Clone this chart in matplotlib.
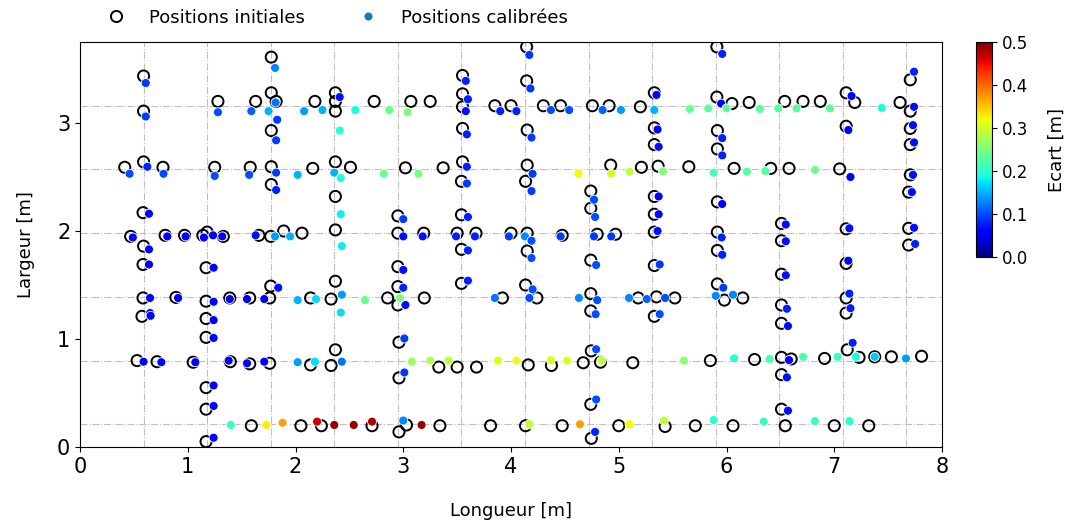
import numpy as np
import matplotlib
matplotlib.use("Agg")
import matplotlib.pyplot as plt
from matplotlib.lines import Line2D

# Grid reference lines (m)
grid_x = [0.59, 1.18, 1.77, 2.36, 2.95, 3.54, 4.13, 4.72, 5.31, 5.90, 6.49, 7.08, 7.67]
grid_y = [0.21, 0.80, 1.39, 1.98, 2.57, 3.16]

# Initial positions
init_pts = [
    (0.59, 3.435), (0.59, 3.11), (0.59, 2.64), (0.415, 2.59), (0.77, 2.59), (1.28, 3.20),
    (1.63, 3.20), (1.775, 3.61), (1.775, 3.28), (1.82, 3.20), (1.775, 2.93), (1.25, 2.59),
    (1.58, 2.59), (1.775, 2.595), (1.775, 2.43), (2.18, 3.20), (2.37, 3.28), (2.37, 3.20),
    (2.37, 3.11), (2.73, 3.20), (3.07, 3.20), (3.25, 3.20), (3.55, 3.44), (3.55, 3.27),
    (3.55, 3.15), (3.55, 2.95), (3.85, 3.16), (4.00, 3.16), (2.16, 2.58), (2.37, 2.64),
    (2.51, 2.59), (3.02, 2.585), (3.37, 2.585), (3.55, 2.64), (3.54, 2.46), (4.145, 3.705),
    (4.145, 3.39), (4.30, 3.16), (4.46, 3.16), (4.755, 3.16), (4.91, 3.16), (5.20, 3.15),
    (5.33, 3.28), (5.91, 3.705), (5.91, 3.24), (6.05, 3.18), (5.33, 2.955), (5.33, 2.80),
    (4.15, 2.935), (4.15, 2.61), (4.925, 2.61), (5.21, 2.59), (5.365, 2.60), (5.65, 2.595),
    (5.915, 2.93), (5.915, 2.76), (6.07, 2.58), (6.21, 3.19), (6.54, 3.20), (6.71, 3.20),
    (6.87, 3.20), (7.11, 3.28), (7.19, 3.19), (7.11, 2.97), (7.61, 3.19), (7.705, 3.11),
    (7.705, 3.40), (7.705, 2.95), (7.705, 2.80), (6.41, 2.58), (6.58, 2.58), (7.05, 2.575),
    (7.705, 2.52), (4.135, 2.46),
    (0.585, 2.17), (0.47, 1.95), (0.59, 1.86), (0.585, 1.69), (0.79, 1.96), (0.97, 1.96),
    (1.14, 1.96), (1.18, 1.99), (1.33, 1.95), (1.17, 1.66), (1.66, 1.96), (1.77, 1.95),
    (1.89, 2.00), (1.77, 1.49), (0.585, 1.38), (0.89, 1.385), (1.17, 1.35), (1.39, 1.38),
    (1.575, 1.38), (1.76, 1.38), (0.575, 1.21), (1.17, 1.19), (2.37, 2.32), (2.06, 1.98),
    (2.37, 2.01), (2.95, 2.14), (2.95, 1.98), (3.19, 1.98), (2.95, 1.67), (2.95, 1.485),
    (2.95, 1.315), (2.855, 1.38), (3.195, 1.38), (2.37, 1.535), (2.33, 1.37), (2.14, 1.38),
    (3.50, 1.98), (3.675, 1.98), (3.54, 2.15), (3.54, 1.83), (3.54, 1.515), (3.92, 1.38),
    (4.00, 1.98), (4.74, 2.37), (4.74, 2.21), (5.33, 2.32), (5.33, 2.155), (5.33, 1.99),
    (5.915, 2.27), (5.915, 1.99), (5.915, 1.82), (4.15, 1.98), (4.15, 1.815), (4.475, 1.96),
    (4.80, 1.97), (4.97, 1.97), (4.74, 1.73), (5.33, 1.68), (4.135, 1.50), (4.24, 1.38),
    (4.74, 1.42), (4.74, 1.26), (5.18, 1.38), (5.35, 1.39), (5.52, 1.38), (5.33, 1.21),
    (5.915, 1.51), (5.98, 1.36), (6.15, 1.38), (7.69, 2.36), (6.51, 2.07), (6.51, 1.91),
    (7.11, 2.02), (7.69, 2.025), (7.69, 1.87), (6.51, 1.60), (7.11, 1.70), (6.51, 1.315),
    (7.11, 1.38), (7.11, 1.24), (6.51, 1.145),
    (1.17, 1.015), (0.53, 0.80), (0.715, 0.79), (1.05, 0.785), (1.17, 0.55), (1.17, 0.35),
    (1.17, 0.05), (1.395, 0.79), (1.575, 0.77), (1.76, 0.775), (1.59, 0.197), (2.05, 0.197),
    (2.37, 0.90), (2.14, 0.76), (2.33, 0.755), (2.96, 0.97), (2.96, 0.64), (3.33, 0.74),
    (3.50, 0.74), (3.68, 0.74), (2.24, 0.197), (2.71, 0.197), (2.96, 0.14), (3.03, 0.204),
    (3.34, 0.197), (3.81, 0.197), (4.16, 0.76), (4.375, 0.755), (4.67, 0.78), (4.745, 0.89),
    (4.83, 0.785), (5.13, 0.78), (5.85, 0.80), (4.74, 0.395), (4.745, 0.08), (4.135, 0.197),
    (4.475, 0.197), (5.00, 0.197), (5.43, 0.19), (5.71, 0.197), (6.06, 0.197), (6.26, 0.81),
    (6.51, 0.83), (6.60, 0.815), (6.91, 0.82), (7.12, 0.90), (7.23, 0.83), (7.375, 0.835),
    (7.53, 0.835), (7.81, 0.84), (6.51, 0.67), (6.51, 0.35), (6.545, 0.197), (7.00, 0.197),
    (7.32, 0.197),
]
x_init = [p[0] for p in init_pts]
y_init = [p[1] for p in init_pts]

# Calibrated positions (x, y, ecart)
cal_pts = [
    (0.61, 3.37, 0.09), (0.61, 3.06, 0.09), (0.625, 2.595, 0.08), (0.46, 2.53, 0.10),
    (0.775, 2.53, 0.10), (1.28, 3.10, 0.10), (1.59, 3.11, 0.11), (1.81, 3.51, 0.13),
    (1.815, 3.19, 0.12), (1.75, 3.11, 0.15), (1.83, 3.03, 0.09), (1.82, 2.84, 0.09),
    (1.25, 2.51, 0.10), (1.57, 2.52, 0.10), (1.82, 2.54, 0.09), (2.02, 2.52, 0.15),
    (1.82, 2.38, 0.08), (2.08, 3.11, 0.14), (2.25, 3.12, 0.15), (2.41, 3.24, 0.07),
    (2.555, 3.12, 0.19), (2.87, 3.12, 0.24), (3.04, 3.10, 0.25), (2.41, 2.93, 0.20),
    (3.58, 3.39, 0.08), (3.60, 3.22, 0.08), (3.58, 3.11, 0.07), (3.59, 2.895, 0.08),
    (3.90, 3.11, 0.08), (4.05, 3.11, 0.08), (2.36, 2.54, 0.15), (2.42, 2.49, 0.19),
    (2.82, 2.53, 0.24), (3.14, 2.53, 0.25), (3.59, 2.595, 0.08), (3.59, 2.44, 0.09),
    (4.17, 3.63, 0.09), (4.18, 3.32, 0.09), (4.37, 3.12, 0.10), (4.54, 3.12, 0.10),
    (4.85, 3.12, 0.11), (5.02, 3.12, 0.14), (5.35, 3.26, 0.06), (5.33, 3.12, 0.15),
    (5.66, 3.13, 0.24), (5.83, 3.135, 0.23), (5.96, 3.64, 0.08), (5.95, 3.18, 0.06),
    (6.00, 3.135, 0.23), (5.36, 2.94, 0.06), (5.37, 2.78, 0.07), (4.19, 2.865, 0.09),
    (4.20, 2.53, 0.09), (4.625, 2.53, 0.32), (4.93, 2.53, 0.30), (5.10, 2.55, 0.29),
    (5.41, 2.55, 0.25), (5.88, 2.54, 0.22), (5.96, 2.86, 0.08), (5.96, 2.70, 0.08),
    (6.31, 3.13, 0.23), (6.48, 3.135, 0.23), (6.65, 3.135, 0.23), (6.96, 3.135, 0.23),
    (7.16, 3.25, 0.06), (7.13, 2.935, 0.06), (7.44, 3.14, 0.19), (7.74, 3.15, 0.07),
    (7.74, 3.475, 0.08), (7.73, 2.98, 0.07), (7.74, 2.82, 0.07), (6.19, 2.55, 0.23),
    (6.36, 2.555, 0.23), (6.82, 2.565, 0.24), (7.15, 2.50, 0.06), (7.73, 2.52, 0.07),
    (4.19, 2.37, 0.09),
    (0.64, 2.16, 0.06), (0.49, 1.94, 0.06), (0.64, 1.83, 0.06), (0.64, 1.69, 0.06),
    (0.81, 1.95, 0.06), (0.98, 1.95, 0.06), (1.15, 1.94, 0.06), (1.235, 1.96, 0.06),
    (1.32, 1.95, 0.06), (1.24, 1.66, 0.06), (1.63, 1.96, 0.07), (1.81, 1.95, 0.14),
    (1.95, 1.95, 0.15), (1.84, 1.475, 0.07), (0.65, 1.38, 0.06), (0.91, 1.38, 0.05),
    (1.24, 1.345, 0.06), (1.39, 1.37, 0.05), (1.55, 1.37, 0.05), (1.71, 1.37, 0.05),
    (2.02, 1.36, 0.15), (0.65, 1.24, 0.06), (2.42, 2.155, 0.18), (2.43, 1.86, 0.18),
    (3.00, 2.11, 0.09), (3.00, 1.95, 0.07), (3.18, 1.95, 0.07), (3.00, 1.64, 0.07),
    (3.00, 1.475, 0.08), (3.02, 1.315, 0.07), (2.97, 1.38, 0.25), (2.645, 1.36, 0.24),
    (2.43, 1.41, 0.14), (2.42, 1.245, 0.17), (2.19, 1.37, 0.17), (3.49, 1.95, 0.08),
    (3.665, 1.95, 0.08), (3.60, 2.13, 0.08), (3.60, 1.82, 0.08), (3.60, 1.54, 0.08),
    (3.85, 1.38, 0.12), (3.98, 1.95, 0.09), (4.77, 2.29, 0.10), (4.78, 2.13, 0.10),
    (5.37, 2.32, 0.06), (5.37, 2.155, 0.06), (5.36, 2.00, 0.07), (5.96, 2.25, 0.06),
    (5.955, 1.94, 0.08), (5.96, 1.78, 0.08), (4.13, 1.95, 0.13), (4.19, 1.91, 0.10),
    (4.19, 1.75, 0.10), (4.46, 1.95, 0.09), (4.77, 1.95, 0.09), (4.93, 1.95, 0.09),
    (4.79, 1.685, 0.10), (5.38, 1.69, 0.09), (4.20, 1.46, 0.10), (4.17, 1.38, 0.10),
    (4.63, 1.38, 0.13), (4.80, 1.36, 0.10), (4.785, 1.23, 0.10), (5.095, 1.38, 0.13),
    (5.26, 1.37, 0.11), (5.43, 1.38, 0.10), (5.38, 1.23, 0.10), (5.97, 1.475, 0.09),
    (5.90, 1.40, 0.13), (6.06, 1.41, 0.13), (7.72, 2.36, 0.07), (6.55, 2.06, 0.07),
    (6.55, 1.905, 0.07), (7.14, 2.025, 0.07), (7.74, 2.03, 0.07), (7.75, 1.88, 0.08),
    (6.55, 1.59, 0.07), (7.13, 1.725, 0.06), (6.56, 1.28, 0.08), (7.14, 1.42, 0.08),
    (7.15, 1.285, 0.08), (6.57, 1.12, 0.07),
    (0.655, 1.215, 0.06), (1.24, 1.175, 0.06), (1.24, 1.01, 0.06), (0.59, 0.79, 0.06),
    (0.755, 0.785, 0.06), (1.07, 0.785, 0.05), (1.24, 0.57, 0.06), (1.24, 0.38, 0.06),
    (1.24, 0.086, 0.06), (1.38, 0.80, 0.05), (1.55, 0.775, 0.06), (1.71, 0.79, 0.06),
    (2.02, 0.785, 0.14), (1.40, 0.204, 0.21), (1.73, 0.204, 0.33), (1.88, 0.225, 0.37),
    (2.18, 0.79, 0.17), (2.43, 0.79, 0.12), (3.01, 1.005, 0.09), (3.01, 0.69, 0.09),
    (3.08, 0.79, 0.27), (3.25, 0.80, 0.28), (3.42, 0.80, 0.29), (3.88, 0.80, 0.31),
    (4.05, 0.80, 0.32), (2.20, 0.235, 0.47), (2.36, 0.204, 0.49), (2.54, 0.204, 0.49),
    (2.71, 0.235, 0.48), (3.00, 0.245, 0.13), (3.17, 0.204, 0.49), (4.37, 0.805, 0.31),
    (4.52, 0.80, 0.31), (4.79, 0.905, 0.10), (4.84, 0.80, 0.29), (5.605, 0.80, 0.26),
    (6.07, 0.82, 0.20), (4.79, 0.44, 0.10), (4.78, 0.14, 0.08), (4.17, 0.21, 0.29),
    (4.64, 0.21, 0.37), (5.10, 0.21, 0.32), (5.42, 0.245, 0.29), (5.88, 0.25, 0.20),
    (6.40, 0.815, 0.22), (6.58, 0.805, 0.06), (6.71, 0.835, 0.22), (7.03, 0.835, 0.21),
    (7.17, 0.965, 0.08), (7.20, 0.835, 0.19), (7.375, 0.835, 0.16), (7.665, 0.82, 0.14),
    (6.56, 0.645, 0.07), (6.57, 0.336, 0.07), (6.345, 0.235, 0.21), (6.82, 0.24, 0.21),
    (7.14, 0.24, 0.20),
]
x_cal = [p[0] for p in cal_pts]
y_cal = [p[1] for p in cal_pts]
ecart = [p[2] for p in cal_pts]

fig = plt.figure(figsize=(10.71, 5.27), dpi=100)
ax = fig.add_axes([0.0747, 0.1518, 0.8049, 0.7685])
cax = fig.add_axes([0.9113, 0.5123, 0.0149, 0.408])

for gx in grid_x:
    ax.axvline(gx, color="#bfbfbf", lw=0.8, ls="-.", zorder=0)
for gy in grid_y:
    ax.axhline(gy, color="#bfbfbf", lw=0.8, ls="-.", zorder=0)

ax.scatter(x_init, y_init, s=64, facecolors="none", edgecolors="black", linewidths=1.4, zorder=2)
sc = ax.scatter(x_cal, y_cal, c=ecart, cmap="jet", vmin=0, vmax=0.5, s=42,
                edgecolors="white", linewidths=0.6, zorder=3)

ax.set_xlim(0, 8)
ax.set_ylim(0, 3.75)
ax.set_xticks(range(0, 9))
ax.set_yticks([0, 1, 2, 3])
ax.tick_params(labelsize=15)
ax.set_xlabel("Longueur [m]", fontsize=13, labelpad=18)
ax.set_ylabel("Largeur [m]", fontsize=13, labelpad=16)

cb = fig.colorbar(sc, cax=cax)
cb.set_ticks([0.0, 0.1, 0.2, 0.3, 0.4, 0.5])
cb.ax.tick_params(labelsize=12)
cb.set_label("Ecart [m]", fontsize=13, labelpad=14)

handles = [
    Line2D([], [], ls="none", marker="o", markerfacecolor="none", markeredgecolor="black",
           markeredgewidth=1.4, markersize=8),
    Line2D([], [], ls="none", marker="o", markerfacecolor="#1f77b4", markeredgecolor="white",
           markeredgewidth=0.6, markersize=6.5),
]
ax.legend(handles, ["Positions initiales", "Positions calibrées"], loc="lower left",
          bbox_to_anchor=(0.012, 1.02), ncol=2, frameon=False, fontsize=13,
          columnspacing=2.5, handletextpad=0.83, borderaxespad=0.0)

fig.savefig("out.png", dpi=100)
